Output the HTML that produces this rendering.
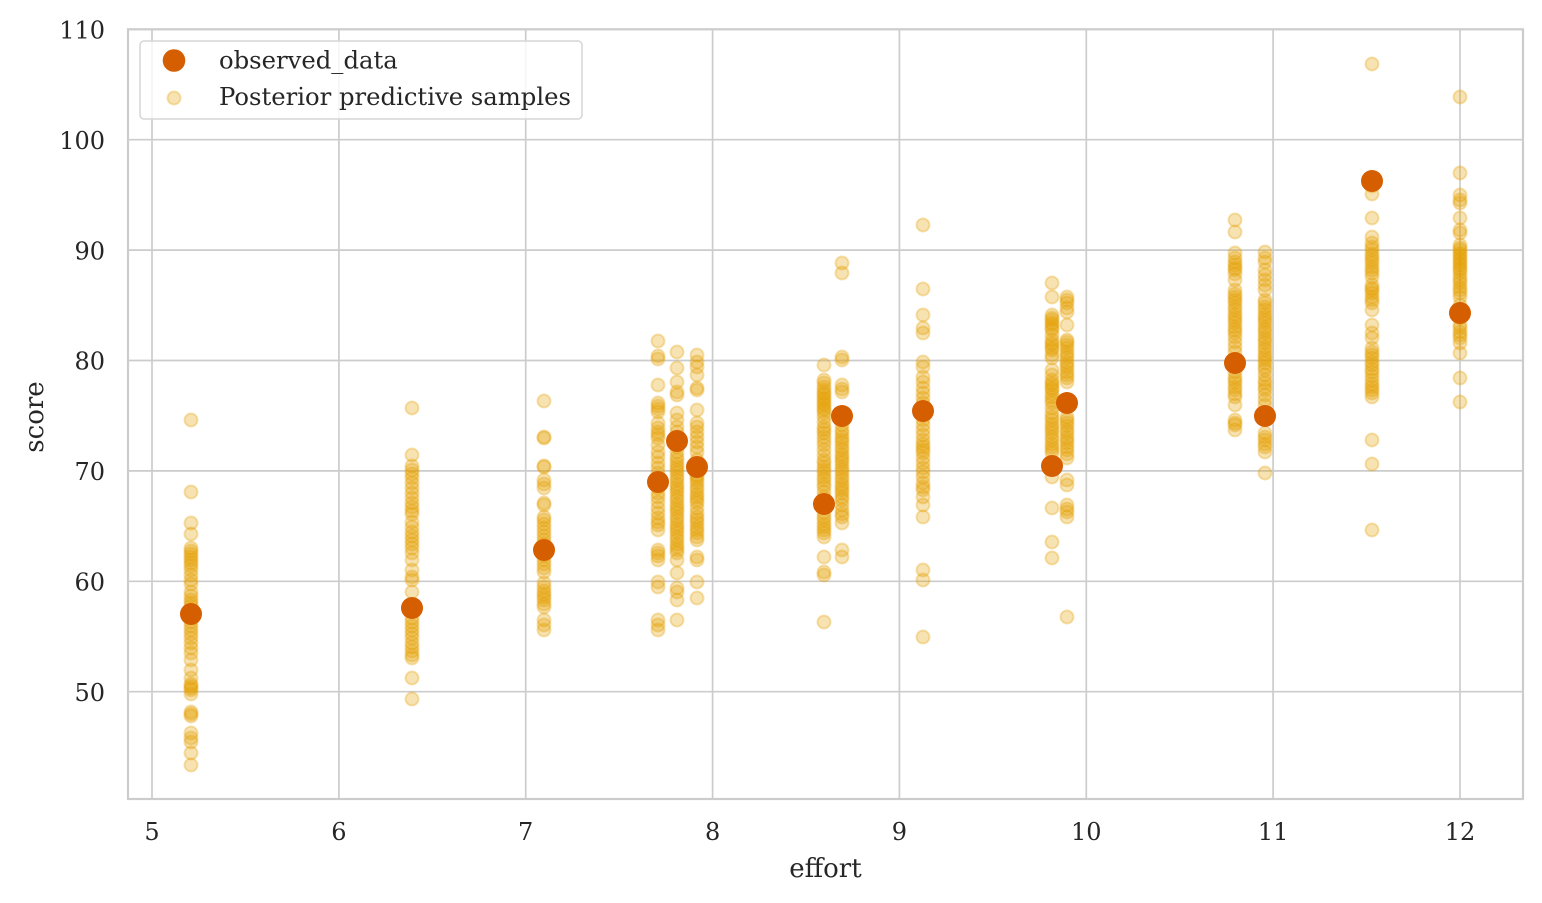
<!DOCTYPE html>
<html><head><meta charset="utf-8"><style>
html,body{margin:0;padding:0;background:#fff}
svg{display:block}
text{font-family:"DejaVu Serif","Liberation Serif",serif;fill:#262626}
</style></head><body>
<svg width="1542" height="903" viewBox="0 0 1542 903" xmlns="http://www.w3.org/2000/svg">
<rect x="0" y="0" width="1542" height="903" fill="#fff"/>
<!-- grid -->
<g stroke="#cccccc" stroke-width="1.7">
<line x1="152" y1="29" x2="152" y2="799"/>
<line x1="338.9" y1="29" x2="338.9" y2="799"/>
<line x1="525.7" y1="29" x2="525.7" y2="799"/>
<line x1="712.6" y1="29" x2="712.6" y2="799"/>
<line x1="899.4" y1="29" x2="899.4" y2="799"/>
<line x1="1086.3" y1="29" x2="1086.3" y2="799"/>
<line x1="1273.1" y1="29" x2="1273.1" y2="799"/>
<line x1="1460" y1="29" x2="1460" y2="799"/>
<line x1="128" y1="139.7" x2="1523" y2="139.7"/>
<line x1="128" y1="250.1" x2="1523" y2="250.1"/>
<line x1="128" y1="360.5" x2="1523" y2="360.5"/>
<line x1="128" y1="470.9" x2="1523" y2="470.9"/>
<line x1="128" y1="581.3" x2="1523" y2="581.3"/>
<line x1="128" y1="691.7" x2="1523" y2="691.7"/>
</g>
<!-- samples -->
<g fill="#E69F00" fill-opacity="0.3" stroke="#E69F00" stroke-opacity="0.3" stroke-width="2">
<g transform="translate(191,0)">
<circle cx="0" cy="420" r="6.5"/><circle cx="0" cy="492" r="6.5"/><circle cx="0" cy="523" r="6.5"/><circle cx="0" cy="534" r="6.5"/><circle cx="0" cy="548" r="6.5"/><circle cx="0" cy="551" r="6.5"/><circle cx="0" cy="554" r="6.5"/><circle cx="0" cy="557" r="6.5"/><circle cx="0" cy="560" r="6.5"/><circle cx="0" cy="563" r="6.5"/><circle cx="0" cy="566" r="6.5"/><circle cx="0" cy="570" r="6.5"/><circle cx="0" cy="575" r="6.5"/><circle cx="0" cy="580" r="6.5"/><circle cx="0" cy="584" r="6.5"/><circle cx="0" cy="592" r="6.5"/><circle cx="0" cy="596" r="6.5"/><circle cx="0" cy="600" r="6.5"/><circle cx="0" cy="603" r="6.5"/><circle cx="0" cy="606" r="6.5"/><circle cx="0" cy="610" r="6.5"/><circle cx="0" cy="614" r="6.5"/><circle cx="0" cy="618" r="6.5"/><circle cx="0" cy="622" r="6.5"/><circle cx="0" cy="626" r="6.5"/><circle cx="0" cy="630" r="6.5"/><circle cx="0" cy="634" r="6.5"/><circle cx="0" cy="638" r="6.5"/><circle cx="0" cy="643" r="6.5"/><circle cx="0" cy="648" r="6.5"/><circle cx="0" cy="653" r="6.5"/><circle cx="0" cy="660" r="6.5"/><circle cx="0" cy="670" r="6.5"/><circle cx="0" cy="678" r="6.5"/><circle cx="0" cy="684" r="6.5"/><circle cx="0" cy="686" r="6.5"/><circle cx="0" cy="688" r="6.5"/><circle cx="0" cy="690" r="6.5"/><circle cx="0" cy="694" r="6.5"/><circle cx="0" cy="712" r="6.5"/><circle cx="0" cy="714" r="6.5"/><circle cx="0" cy="716" r="6.5"/><circle cx="0" cy="733" r="6.5"/><circle cx="0" cy="738" r="6.5"/><circle cx="0" cy="742" r="6.5"/><circle cx="0" cy="753" r="6.5"/><circle cx="0" cy="765" r="6.5"/>
</g>
<g transform="translate(412,0)">
<circle cx="0" cy="408" r="6.5"/><circle cx="0" cy="455" r="6.5"/><circle cx="0" cy="466" r="6.5"/><circle cx="0" cy="470" r="6.5"/><circle cx="0" cy="474" r="6.5"/><circle cx="0" cy="478" r="6.5"/><circle cx="0" cy="483" r="6.5"/><circle cx="0" cy="488" r="6.5"/><circle cx="0" cy="493" r="6.5"/><circle cx="0" cy="498" r="6.5"/><circle cx="0" cy="503" r="6.5"/><circle cx="0" cy="507" r="6.5"/><circle cx="0" cy="511" r="6.5"/><circle cx="0" cy="514" r="6.5"/><circle cx="0" cy="522" r="6.5"/><circle cx="0" cy="527" r="6.5"/><circle cx="0" cy="532" r="6.5"/><circle cx="0" cy="536" r="6.5"/><circle cx="0" cy="540" r="6.5"/><circle cx="0" cy="544" r="6.5"/><circle cx="0" cy="548" r="6.5"/><circle cx="0" cy="553" r="6.5"/><circle cx="0" cy="560" r="6.5"/><circle cx="0" cy="570" r="6.5"/><circle cx="0" cy="577" r="6.5"/><circle cx="0" cy="580" r="6.5"/><circle cx="0" cy="592" r="6.5"/><circle cx="0" cy="618" r="6.5"/><circle cx="0" cy="622" r="6.5"/><circle cx="0" cy="626" r="6.5"/><circle cx="0" cy="630" r="6.5"/><circle cx="0" cy="634" r="6.5"/><circle cx="0" cy="638" r="6.5"/><circle cx="0" cy="643" r="6.5"/><circle cx="0" cy="647" r="6.5"/><circle cx="0" cy="651" r="6.5"/><circle cx="0" cy="655" r="6.5"/><circle cx="0" cy="658" r="6.5"/><circle cx="0" cy="678" r="6.5"/><circle cx="0" cy="699" r="6.5"/>
</g>
<g transform="translate(544,0)">
<circle cx="0" cy="401" r="6.5"/><circle cx="0" cy="437" r="6.5"/><circle cx="0" cy="438" r="6.5"/><circle cx="0" cy="466" r="6.5"/><circle cx="0" cy="467" r="6.5"/><circle cx="0" cy="480" r="6.5"/><circle cx="0" cy="484" r="6.5"/><circle cx="0" cy="488" r="6.5"/><circle cx="0" cy="503" r="6.5"/><circle cx="0" cy="505" r="6.5"/><circle cx="0" cy="517" r="6.5"/><circle cx="0" cy="520" r="6.5"/><circle cx="0" cy="524" r="6.5"/><circle cx="0" cy="528" r="6.5"/><circle cx="0" cy="532" r="6.5"/><circle cx="0" cy="536" r="6.5"/><circle cx="0" cy="540" r="6.5"/><circle cx="0" cy="544" r="6.5"/><circle cx="0" cy="556" r="6.5"/><circle cx="0" cy="560" r="6.5"/><circle cx="0" cy="564" r="6.5"/><circle cx="0" cy="568" r="6.5"/><circle cx="0" cy="572" r="6.5"/><circle cx="0" cy="583" r="6.5"/><circle cx="0" cy="587" r="6.5"/><circle cx="0" cy="591" r="6.5"/><circle cx="0" cy="594" r="6.5"/><circle cx="0" cy="597" r="6.5"/><circle cx="0" cy="600" r="6.5"/><circle cx="0" cy="604" r="6.5"/><circle cx="0" cy="607" r="6.5"/><circle cx="0" cy="620" r="6.5"/><circle cx="0" cy="625" r="6.5"/><circle cx="0" cy="630" r="6.5"/>
</g>
<g transform="translate(658,0)">
<circle cx="0" cy="341" r="6.5"/><circle cx="0" cy="356" r="6.5"/><circle cx="0" cy="359" r="6.5"/><circle cx="0" cy="385" r="6.5"/><circle cx="0" cy="403" r="6.5"/><circle cx="0" cy="406" r="6.5"/><circle cx="0" cy="409" r="6.5"/><circle cx="0" cy="412" r="6.5"/><circle cx="0" cy="423" r="6.5"/><circle cx="0" cy="428" r="6.5"/><circle cx="0" cy="432" r="6.5"/><circle cx="0" cy="435" r="6.5"/><circle cx="0" cy="438" r="6.5"/><circle cx="0" cy="445" r="6.5"/><circle cx="0" cy="452" r="6.5"/><circle cx="0" cy="457" r="6.5"/><circle cx="0" cy="463" r="6.5"/><circle cx="0" cy="468" r="6.5"/><circle cx="0" cy="473" r="6.5"/><circle cx="0" cy="478" r="6.5"/><circle cx="0" cy="488" r="6.5"/><circle cx="0" cy="493" r="6.5"/><circle cx="0" cy="497" r="6.5"/><circle cx="0" cy="502" r="6.5"/><circle cx="0" cy="508" r="6.5"/><circle cx="0" cy="513" r="6.5"/><circle cx="0" cy="518" r="6.5"/><circle cx="0" cy="522" r="6.5"/><circle cx="0" cy="525" r="6.5"/><circle cx="0" cy="530" r="6.5"/><circle cx="0" cy="550" r="6.5"/><circle cx="0" cy="553" r="6.5"/><circle cx="0" cy="556" r="6.5"/><circle cx="0" cy="560" r="6.5"/><circle cx="0" cy="582" r="6.5"/><circle cx="0" cy="587" r="6.5"/><circle cx="0" cy="620" r="6.5"/><circle cx="0" cy="625" r="6.5"/><circle cx="0" cy="630" r="6.5"/>
</g>
<g transform="translate(677,0)">
<circle cx="0" cy="352" r="6.5"/><circle cx="0" cy="368" r="6.5"/><circle cx="0" cy="382" r="6.5"/><circle cx="0" cy="392" r="6.5"/><circle cx="0" cy="395" r="6.5"/><circle cx="0" cy="413" r="6.5"/><circle cx="0" cy="420" r="6.5"/><circle cx="0" cy="427" r="6.5"/><circle cx="0" cy="432" r="6.5"/><circle cx="0" cy="437" r="6.5"/><circle cx="0" cy="447" r="6.5"/><circle cx="0" cy="452" r="6.5"/><circle cx="0" cy="457" r="6.5"/><circle cx="0" cy="460" r="6.5"/><circle cx="0" cy="464" r="6.5"/><circle cx="0" cy="467" r="6.5"/><circle cx="0" cy="470" r="6.5"/><circle cx="0" cy="473" r="6.5"/><circle cx="0" cy="477" r="6.5"/><circle cx="0" cy="480" r="6.5"/><circle cx="0" cy="484" r="6.5"/><circle cx="0" cy="487" r="6.5"/><circle cx="0" cy="490" r="6.5"/><circle cx="0" cy="493" r="6.5"/><circle cx="0" cy="497" r="6.5"/><circle cx="0" cy="500" r="6.5"/><circle cx="0" cy="504" r="6.5"/><circle cx="0" cy="507" r="6.5"/><circle cx="0" cy="510" r="6.5"/><circle cx="0" cy="513" r="6.5"/><circle cx="0" cy="517" r="6.5"/><circle cx="0" cy="520" r="6.5"/><circle cx="0" cy="524" r="6.5"/><circle cx="0" cy="527" r="6.5"/><circle cx="0" cy="530" r="6.5"/><circle cx="0" cy="533" r="6.5"/><circle cx="0" cy="537" r="6.5"/><circle cx="0" cy="540" r="6.5"/><circle cx="0" cy="544" r="6.5"/><circle cx="0" cy="547" r="6.5"/><circle cx="0" cy="550" r="6.5"/><circle cx="0" cy="553" r="6.5"/><circle cx="0" cy="560" r="6.5"/><circle cx="0" cy="573" r="6.5"/><circle cx="0" cy="588" r="6.5"/><circle cx="0" cy="592" r="6.5"/><circle cx="0" cy="600" r="6.5"/><circle cx="0" cy="620" r="6.5"/>
</g>
<g transform="translate(697,0)">
<circle cx="0" cy="355" r="6.5"/><circle cx="0" cy="362" r="6.5"/><circle cx="0" cy="367" r="6.5"/><circle cx="0" cy="375" r="6.5"/><circle cx="0" cy="388" r="6.5"/><circle cx="0" cy="390" r="6.5"/><circle cx="0" cy="410" r="6.5"/><circle cx="0" cy="423" r="6.5"/><circle cx="0" cy="427" r="6.5"/><circle cx="0" cy="432" r="6.5"/><circle cx="0" cy="437" r="6.5"/><circle cx="0" cy="442" r="6.5"/><circle cx="0" cy="447" r="6.5"/><circle cx="0" cy="452" r="6.5"/><circle cx="0" cy="460" r="6.5"/><circle cx="0" cy="470" r="6.5"/><circle cx="0" cy="475" r="6.5"/><circle cx="0" cy="477" r="6.5"/><circle cx="0" cy="480" r="6.5"/><circle cx="0" cy="483" r="6.5"/><circle cx="0" cy="487" r="6.5"/><circle cx="0" cy="490" r="6.5"/><circle cx="0" cy="494" r="6.5"/><circle cx="0" cy="497" r="6.5"/><circle cx="0" cy="500" r="6.5"/><circle cx="0" cy="503" r="6.5"/><circle cx="0" cy="508" r="6.5"/><circle cx="0" cy="513" r="6.5"/><circle cx="0" cy="517" r="6.5"/><circle cx="0" cy="520" r="6.5"/><circle cx="0" cy="523" r="6.5"/><circle cx="0" cy="527" r="6.5"/><circle cx="0" cy="530" r="6.5"/><circle cx="0" cy="533" r="6.5"/><circle cx="0" cy="537" r="6.5"/><circle cx="0" cy="540" r="6.5"/><circle cx="0" cy="557" r="6.5"/><circle cx="0" cy="560" r="6.5"/><circle cx="0" cy="582" r="6.5"/><circle cx="0" cy="598" r="6.5"/>
</g>
<g transform="translate(824,0)">
<circle cx="0" cy="365" r="6.5"/><circle cx="0" cy="380" r="6.5"/><circle cx="0" cy="383" r="6.5"/><circle cx="0" cy="387" r="6.5"/><circle cx="0" cy="390" r="6.5"/><circle cx="0" cy="393" r="6.5"/><circle cx="0" cy="395" r="6.5"/><circle cx="0" cy="398" r="6.5"/><circle cx="0" cy="400" r="6.5"/><circle cx="0" cy="403" r="6.5"/><circle cx="0" cy="405" r="6.5"/><circle cx="0" cy="408" r="6.5"/><circle cx="0" cy="410" r="6.5"/><circle cx="0" cy="413" r="6.5"/><circle cx="0" cy="417" r="6.5"/><circle cx="0" cy="422" r="6.5"/><circle cx="0" cy="427" r="6.5"/><circle cx="0" cy="430" r="6.5"/><circle cx="0" cy="433" r="6.5"/><circle cx="0" cy="437" r="6.5"/><circle cx="0" cy="441" r="6.5"/><circle cx="0" cy="445" r="6.5"/><circle cx="0" cy="450" r="6.5"/><circle cx="0" cy="455" r="6.5"/><circle cx="0" cy="460" r="6.5"/><circle cx="0" cy="463" r="6.5"/><circle cx="0" cy="467" r="6.5"/><circle cx="0" cy="470" r="6.5"/><circle cx="0" cy="473" r="6.5"/><circle cx="0" cy="477" r="6.5"/><circle cx="0" cy="480" r="6.5"/><circle cx="0" cy="484" r="6.5"/><circle cx="0" cy="487" r="6.5"/><circle cx="0" cy="492" r="6.5"/><circle cx="0" cy="497" r="6.5"/><circle cx="0" cy="513" r="6.5"/><circle cx="0" cy="517" r="6.5"/><circle cx="0" cy="520" r="6.5"/><circle cx="0" cy="524" r="6.5"/><circle cx="0" cy="527" r="6.5"/><circle cx="0" cy="530" r="6.5"/><circle cx="0" cy="533" r="6.5"/><circle cx="0" cy="537" r="6.5"/><circle cx="0" cy="557" r="6.5"/><circle cx="0" cy="572" r="6.5"/><circle cx="0" cy="575" r="6.5"/><circle cx="0" cy="622" r="6.5"/>
</g>
<g transform="translate(842,0)">
<circle cx="0" cy="263" r="6.5"/><circle cx="0" cy="273" r="6.5"/><circle cx="0" cy="357" r="6.5"/><circle cx="0" cy="360" r="6.5"/><circle cx="0" cy="385" r="6.5"/><circle cx="0" cy="389" r="6.5"/><circle cx="0" cy="392" r="6.5"/><circle cx="0" cy="420" r="6.5"/><circle cx="0" cy="425" r="6.5"/><circle cx="0" cy="430" r="6.5"/><circle cx="0" cy="433" r="6.5"/><circle cx="0" cy="437" r="6.5"/><circle cx="0" cy="440" r="6.5"/><circle cx="0" cy="443" r="6.5"/><circle cx="0" cy="447" r="6.5"/><circle cx="0" cy="450" r="6.5"/><circle cx="0" cy="454" r="6.5"/><circle cx="0" cy="457" r="6.5"/><circle cx="0" cy="460" r="6.5"/><circle cx="0" cy="463" r="6.5"/><circle cx="0" cy="467" r="6.5"/><circle cx="0" cy="470" r="6.5"/><circle cx="0" cy="473" r="6.5"/><circle cx="0" cy="477" r="6.5"/><circle cx="0" cy="480" r="6.5"/><circle cx="0" cy="484" r="6.5"/><circle cx="0" cy="487" r="6.5"/><circle cx="0" cy="490" r="6.5"/><circle cx="0" cy="493" r="6.5"/><circle cx="0" cy="497" r="6.5"/><circle cx="0" cy="500" r="6.5"/><circle cx="0" cy="505" r="6.5"/><circle cx="0" cy="510" r="6.5"/><circle cx="0" cy="514" r="6.5"/><circle cx="0" cy="517" r="6.5"/><circle cx="0" cy="523" r="6.5"/><circle cx="0" cy="550" r="6.5"/><circle cx="0" cy="557" r="6.5"/>
</g>
<g transform="translate(923,0)">
<circle cx="0" cy="225" r="6.5"/><circle cx="0" cy="289" r="6.5"/><circle cx="0" cy="315" r="6.5"/><circle cx="0" cy="328" r="6.5"/><circle cx="0" cy="333" r="6.5"/><circle cx="0" cy="362" r="6.5"/><circle cx="0" cy="367" r="6.5"/><circle cx="0" cy="377" r="6.5"/><circle cx="0" cy="382" r="6.5"/><circle cx="0" cy="388" r="6.5"/><circle cx="0" cy="393" r="6.5"/><circle cx="0" cy="398" r="6.5"/><circle cx="0" cy="403" r="6.5"/><circle cx="0" cy="416" r="6.5"/><circle cx="0" cy="420" r="6.5"/><circle cx="0" cy="425" r="6.5"/><circle cx="0" cy="430" r="6.5"/><circle cx="0" cy="435" r="6.5"/><circle cx="0" cy="440" r="6.5"/><circle cx="0" cy="444" r="6.5"/><circle cx="0" cy="447" r="6.5"/><circle cx="0" cy="450" r="6.5"/><circle cx="0" cy="453" r="6.5"/><circle cx="0" cy="458" r="6.5"/><circle cx="0" cy="463" r="6.5"/><circle cx="0" cy="468" r="6.5"/><circle cx="0" cy="472" r="6.5"/><circle cx="0" cy="477" r="6.5"/><circle cx="0" cy="483" r="6.5"/><circle cx="0" cy="487" r="6.5"/><circle cx="0" cy="490" r="6.5"/><circle cx="0" cy="497" r="6.5"/><circle cx="0" cy="505" r="6.5"/><circle cx="0" cy="517" r="6.5"/><circle cx="0" cy="570" r="6.5"/><circle cx="0" cy="580" r="6.5"/><circle cx="0" cy="637" r="6.5"/>
</g>
<g transform="translate(1052,0)">
<circle cx="0" cy="283" r="6.5"/><circle cx="0" cy="297" r="6.5"/><circle cx="0" cy="315" r="6.5"/><circle cx="0" cy="318" r="6.5"/><circle cx="0" cy="320" r="6.5"/><circle cx="0" cy="323" r="6.5"/><circle cx="0" cy="325" r="6.5"/><circle cx="0" cy="328" r="6.5"/><circle cx="0" cy="330" r="6.5"/><circle cx="0" cy="335" r="6.5"/><circle cx="0" cy="340" r="6.5"/><circle cx="0" cy="343" r="6.5"/><circle cx="0" cy="345" r="6.5"/><circle cx="0" cy="348" r="6.5"/><circle cx="0" cy="350" r="6.5"/><circle cx="0" cy="355" r="6.5"/><circle cx="0" cy="358" r="6.5"/><circle cx="0" cy="370" r="6.5"/><circle cx="0" cy="375" r="6.5"/><circle cx="0" cy="380" r="6.5"/><circle cx="0" cy="383" r="6.5"/><circle cx="0" cy="385" r="6.5"/><circle cx="0" cy="388" r="6.5"/><circle cx="0" cy="390" r="6.5"/><circle cx="0" cy="394" r="6.5"/><circle cx="0" cy="397" r="6.5"/><circle cx="0" cy="400" r="6.5"/><circle cx="0" cy="403" r="6.5"/><circle cx="0" cy="408" r="6.5"/><circle cx="0" cy="413" r="6.5"/><circle cx="0" cy="417" r="6.5"/><circle cx="0" cy="420" r="6.5"/><circle cx="0" cy="424" r="6.5"/><circle cx="0" cy="427" r="6.5"/><circle cx="0" cy="430" r="6.5"/><circle cx="0" cy="433" r="6.5"/><circle cx="0" cy="437" r="6.5"/><circle cx="0" cy="440" r="6.5"/><circle cx="0" cy="444" r="6.5"/><circle cx="0" cy="447" r="6.5"/><circle cx="0" cy="450" r="6.5"/><circle cx="0" cy="453" r="6.5"/><circle cx="0" cy="477" r="6.5"/><circle cx="0" cy="508" r="6.5"/><circle cx="0" cy="542" r="6.5"/><circle cx="0" cy="558" r="6.5"/>
</g>
<g transform="translate(1067,0)">
<circle cx="0" cy="297" r="6.5"/><circle cx="0" cy="300" r="6.5"/><circle cx="0" cy="303" r="6.5"/><circle cx="0" cy="308" r="6.5"/><circle cx="0" cy="312" r="6.5"/><circle cx="0" cy="325" r="6.5"/><circle cx="0" cy="340" r="6.5"/><circle cx="0" cy="342" r="6.5"/><circle cx="0" cy="345" r="6.5"/><circle cx="0" cy="348" r="6.5"/><circle cx="0" cy="352" r="6.5"/><circle cx="0" cy="355" r="6.5"/><circle cx="0" cy="358" r="6.5"/><circle cx="0" cy="362" r="6.5"/><circle cx="0" cy="365" r="6.5"/><circle cx="0" cy="368" r="6.5"/><circle cx="0" cy="372" r="6.5"/><circle cx="0" cy="375" r="6.5"/><circle cx="0" cy="378" r="6.5"/><circle cx="0" cy="382" r="6.5"/><circle cx="0" cy="417" r="6.5"/><circle cx="0" cy="420" r="6.5"/><circle cx="0" cy="423" r="6.5"/><circle cx="0" cy="426" r="6.5"/><circle cx="0" cy="430" r="6.5"/><circle cx="0" cy="433" r="6.5"/><circle cx="0" cy="437" r="6.5"/><circle cx="0" cy="440" r="6.5"/><circle cx="0" cy="443" r="6.5"/><circle cx="0" cy="447" r="6.5"/><circle cx="0" cy="450" r="6.5"/><circle cx="0" cy="454" r="6.5"/><circle cx="0" cy="458" r="6.5"/><circle cx="0" cy="480" r="6.5"/><circle cx="0" cy="485" r="6.5"/><circle cx="0" cy="505" r="6.5"/><circle cx="0" cy="509" r="6.5"/><circle cx="0" cy="512" r="6.5"/><circle cx="0" cy="517" r="6.5"/><circle cx="0" cy="617" r="6.5"/>
</g>
<g transform="translate(1235,0)">
<circle cx="0" cy="220" r="6.5"/><circle cx="0" cy="232" r="6.5"/><circle cx="0" cy="253" r="6.5"/><circle cx="0" cy="258" r="6.5"/><circle cx="0" cy="262" r="6.5"/><circle cx="0" cy="265" r="6.5"/><circle cx="0" cy="268" r="6.5"/><circle cx="0" cy="270" r="6.5"/><circle cx="0" cy="274" r="6.5"/><circle cx="0" cy="280" r="6.5"/><circle cx="0" cy="290" r="6.5"/><circle cx="0" cy="294" r="6.5"/><circle cx="0" cy="297" r="6.5"/><circle cx="0" cy="300" r="6.5"/><circle cx="0" cy="303" r="6.5"/><circle cx="0" cy="307" r="6.5"/><circle cx="0" cy="310" r="6.5"/><circle cx="0" cy="314" r="6.5"/><circle cx="0" cy="317" r="6.5"/><circle cx="0" cy="320" r="6.5"/><circle cx="0" cy="323" r="6.5"/><circle cx="0" cy="327" r="6.5"/><circle cx="0" cy="330" r="6.5"/><circle cx="0" cy="333" r="6.5"/><circle cx="0" cy="337" r="6.5"/><circle cx="0" cy="342" r="6.5"/><circle cx="0" cy="347" r="6.5"/><circle cx="0" cy="352" r="6.5"/><circle cx="0" cy="372" r="6.5"/><circle cx="0" cy="377" r="6.5"/><circle cx="0" cy="380" r="6.5"/><circle cx="0" cy="383" r="6.5"/><circle cx="0" cy="387" r="6.5"/><circle cx="0" cy="390" r="6.5"/><circle cx="0" cy="394" r="6.5"/><circle cx="0" cy="397" r="6.5"/><circle cx="0" cy="405" r="6.5"/><circle cx="0" cy="420" r="6.5"/><circle cx="0" cy="423" r="6.5"/><circle cx="0" cy="425" r="6.5"/><circle cx="0" cy="430" r="6.5"/>
</g>
<g transform="translate(1265,0)">
<circle cx="0" cy="252" r="6.5"/><circle cx="0" cy="258" r="6.5"/><circle cx="0" cy="262" r="6.5"/><circle cx="0" cy="270" r="6.5"/><circle cx="0" cy="275" r="6.5"/><circle cx="0" cy="280" r="6.5"/><circle cx="0" cy="285" r="6.5"/><circle cx="0" cy="290" r="6.5"/><circle cx="0" cy="300" r="6.5"/><circle cx="0" cy="303" r="6.5"/><circle cx="0" cy="307" r="6.5"/><circle cx="0" cy="310" r="6.5"/><circle cx="0" cy="314" r="6.5"/><circle cx="0" cy="317" r="6.5"/><circle cx="0" cy="320" r="6.5"/><circle cx="0" cy="323" r="6.5"/><circle cx="0" cy="327" r="6.5"/><circle cx="0" cy="330" r="6.5"/><circle cx="0" cy="333" r="6.5"/><circle cx="0" cy="337" r="6.5"/><circle cx="0" cy="340" r="6.5"/><circle cx="0" cy="343" r="6.5"/><circle cx="0" cy="347" r="6.5"/><circle cx="0" cy="350" r="6.5"/><circle cx="0" cy="354" r="6.5"/><circle cx="0" cy="357" r="6.5"/><circle cx="0" cy="360" r="6.5"/><circle cx="0" cy="363" r="6.5"/><circle cx="0" cy="367" r="6.5"/><circle cx="0" cy="370" r="6.5"/><circle cx="0" cy="375" r="6.5"/><circle cx="0" cy="380" r="6.5"/><circle cx="0" cy="383" r="6.5"/><circle cx="0" cy="387" r="6.5"/><circle cx="0" cy="390" r="6.5"/><circle cx="0" cy="395" r="6.5"/><circle cx="0" cy="400" r="6.5"/><circle cx="0" cy="405" r="6.5"/><circle cx="0" cy="433" r="6.5"/><circle cx="0" cy="437" r="6.5"/><circle cx="0" cy="440" r="6.5"/><circle cx="0" cy="444" r="6.5"/><circle cx="0" cy="447" r="6.5"/><circle cx="0" cy="452" r="6.5"/><circle cx="0" cy="473" r="6.5"/>
</g>
<g transform="translate(1372,0)">
<circle cx="0" cy="64" r="6.5"/><circle cx="0" cy="186" r="6.5"/><circle cx="0" cy="194" r="6.5"/><circle cx="0" cy="218" r="6.5"/><circle cx="0" cy="237" r="6.5"/><circle cx="0" cy="243" r="6.5"/><circle cx="0" cy="247" r="6.5"/><circle cx="0" cy="250" r="6.5"/><circle cx="0" cy="254" r="6.5"/><circle cx="0" cy="257" r="6.5"/><circle cx="0" cy="260" r="6.5"/><circle cx="0" cy="263" r="6.5"/><circle cx="0" cy="267" r="6.5"/><circle cx="0" cy="270" r="6.5"/><circle cx="0" cy="273" r="6.5"/><circle cx="0" cy="277" r="6.5"/><circle cx="0" cy="285" r="6.5"/><circle cx="0" cy="288" r="6.5"/><circle cx="0" cy="290" r="6.5"/><circle cx="0" cy="293" r="6.5"/><circle cx="0" cy="297" r="6.5"/><circle cx="0" cy="300" r="6.5"/><circle cx="0" cy="303" r="6.5"/><circle cx="0" cy="310" r="6.5"/><circle cx="0" cy="325" r="6.5"/><circle cx="0" cy="333" r="6.5"/><circle cx="0" cy="338" r="6.5"/><circle cx="0" cy="348" r="6.5"/><circle cx="0" cy="352" r="6.5"/><circle cx="0" cy="355" r="6.5"/><circle cx="0" cy="358" r="6.5"/><circle cx="0" cy="362" r="6.5"/><circle cx="0" cy="365" r="6.5"/><circle cx="0" cy="369" r="6.5"/><circle cx="0" cy="372" r="6.5"/><circle cx="0" cy="376" r="6.5"/><circle cx="0" cy="380" r="6.5"/><circle cx="0" cy="384" r="6.5"/><circle cx="0" cy="387" r="6.5"/><circle cx="0" cy="390" r="6.5"/><circle cx="0" cy="393" r="6.5"/><circle cx="0" cy="397" r="6.5"/><circle cx="0" cy="440" r="6.5"/><circle cx="0" cy="464" r="6.5"/><circle cx="0" cy="530" r="6.5"/>
</g>
<g transform="translate(1460,0)">
<circle cx="0" cy="97" r="6.5"/><circle cx="0" cy="173" r="6.5"/><circle cx="0" cy="195" r="6.5"/><circle cx="0" cy="200" r="6.5"/><circle cx="0" cy="203" r="6.5"/><circle cx="0" cy="218" r="6.5"/><circle cx="0" cy="230" r="6.5"/><circle cx="0" cy="233" r="6.5"/><circle cx="0" cy="245" r="6.5"/><circle cx="0" cy="248" r="6.5"/><circle cx="0" cy="250" r="6.5"/><circle cx="0" cy="253" r="6.5"/><circle cx="0" cy="255" r="6.5"/><circle cx="0" cy="258" r="6.5"/><circle cx="0" cy="260" r="6.5"/><circle cx="0" cy="263" r="6.5"/><circle cx="0" cy="265" r="6.5"/><circle cx="0" cy="268" r="6.5"/><circle cx="0" cy="270" r="6.5"/><circle cx="0" cy="273" r="6.5"/><circle cx="0" cy="277" r="6.5"/><circle cx="0" cy="280" r="6.5"/><circle cx="0" cy="283" r="6.5"/><circle cx="0" cy="287" r="6.5"/><circle cx="0" cy="290" r="6.5"/><circle cx="0" cy="293" r="6.5"/><circle cx="0" cy="297" r="6.5"/><circle cx="0" cy="305" r="6.5"/><circle cx="0" cy="310" r="6.5"/><circle cx="0" cy="318" r="6.5"/><circle cx="0" cy="325" r="6.5"/><circle cx="0" cy="328" r="6.5"/><circle cx="0" cy="332" r="6.5"/><circle cx="0" cy="335" r="6.5"/><circle cx="0" cy="338" r="6.5"/><circle cx="0" cy="343" r="6.5"/><circle cx="0" cy="353" r="6.5"/><circle cx="0" cy="378" r="6.5"/><circle cx="0" cy="402" r="6.5"/>
</g>
</g>
<!-- observed -->
<g fill="#D55E00">
<circle cx="191" cy="614" r="11"/><circle cx="412" cy="608" r="11"/><circle cx="544" cy="550" r="11"/><circle cx="658" cy="482" r="11"/><circle cx="677" cy="441" r="11"/><circle cx="697" cy="467" r="11"/><circle cx="824" cy="504" r="11"/><circle cx="842" cy="416" r="11"/><circle cx="923" cy="411" r="11"/><circle cx="1052" cy="466" r="11"/><circle cx="1067" cy="403" r="11"/><circle cx="1235" cy="363" r="11"/><circle cx="1265" cy="416" r="11"/><circle cx="1372" cy="181" r="11"/><circle cx="1460" cy="313" r="11"/>
</g>
<!-- spines -->
<rect x="128" y="29.3" width="1395" height="769.7" fill="none" stroke="#cccccc" stroke-width="2.2"/>
<!-- y ticks -->
<g font-size="24" text-anchor="end">
<text x="105" y="38.5">110</text>
<text x="105" y="148.9">100</text>
<text x="105" y="259.3">90</text>
<text x="105" y="369.7">80</text>
<text x="105" y="480.1">70</text>
<text x="105" y="590.5">60</text>
<text x="105" y="700.9">50</text>
</g>
<g font-size="24" text-anchor="middle">
<text x="152" y="840">5</text>
<text x="338.9" y="840">6</text>
<text x="525.7" y="840">7</text>
<text x="712.6" y="840">8</text>
<text x="899.4" y="840">9</text>
<text x="1086.3" y="840">10</text>
<text x="1273.1" y="840">11</text>
<text x="1460" y="840">12</text>
</g>
<text x="825.5" y="877" font-size="26" text-anchor="middle">effort</text>
<text transform="translate(43,417) rotate(-90)" font-size="26" text-anchor="middle">score</text>
<!-- legend -->
<rect x="140" y="41" width="442" height="78" rx="4" ry="4" fill="#ffffff" fill-opacity="0.8" stroke="#d6d6d6" stroke-width="1.5"/>
<circle cx="174" cy="60.5" r="11.3" fill="#D55E00"/>
<circle cx="174" cy="98" r="6.5" fill="#E69F00" fill-opacity="0.3" stroke="#E69F00" stroke-opacity="0.3" stroke-width="2"/>
<text x="219" y="68.5" font-size="24.3">observed_data</text>
<text x="219" y="105" font-size="24.3">Posterior predictive samples</text>
</svg>
</body></html>
